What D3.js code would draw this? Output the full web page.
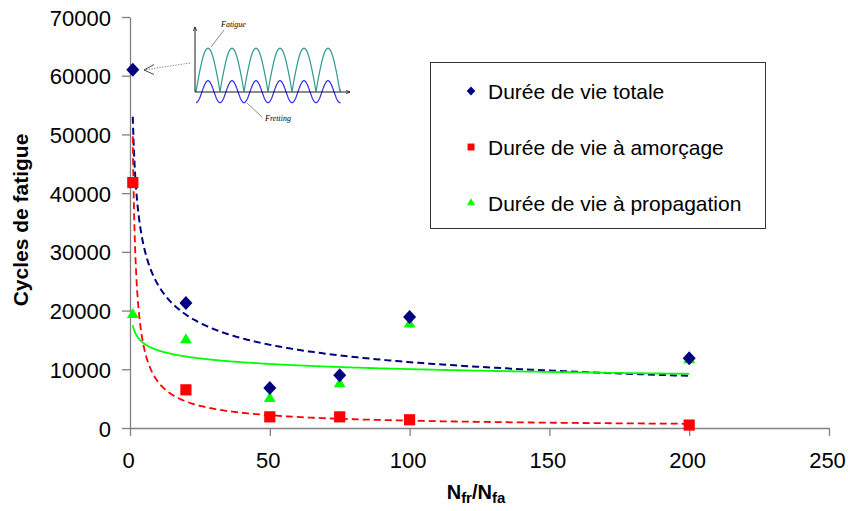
<!DOCTYPE html>
<html>
<head>
<meta charset="utf-8">
<script src="https://cdn.jsdelivr.net/npm/d3@7"></script>
<style>
  html, body { margin: 0; padding: 0; background: #fff; }
  svg { display: block; font-family: "Liberation Sans", Arial, sans-serif; }
</style>
</head>
<body>
<svg id="chart" width="848" height="511"></svg>
<script>
// ---- data ----
const xValues = [1, 20, 50, 75, 100, 200];
const totale = [61000, 21300, 6800, 9000, 18900, 11900];
const amorcage = [41800, 6500, 1900, 1900, 1400, 500];
const propagation = [19300, 15000, 5000, 7500, 17700, 11600];
const seriesNames = ["Durée de vie totale", "Durée de vie à amorçage", "Durée de vie à propagation"];
const xTicks = [0, 50, 100, 150, 200, 250];
const yTicks = [0, 10000, 20000, 30000, 40000, 50000, 60000, 70000];

const svg = d3.select("#chart");
const x = d3.scaleLinear().domain([0, 250]).range([130, 829]);
const y = d3.scaleLinear().domain([0, 70000]).range([428, 17]);
const axisColor = "#808080";

// axes
const gy = svg.append("g").attr("transform", "translate(130,0)")
  .call(d3.axisLeft(y).tickValues(yTicks).tickFormat(d3.format("d")).tickSize(8).tickSizeOuter(0).tickPadding(11));
gy.select(".domain").attr("stroke", axisColor).attr("stroke-width", 1.3);
gy.selectAll(".tick line").attr("stroke", axisColor).attr("stroke-width", 1.3);
gy.selectAll(".tick text").attr("font-size", 22).attr("fill", "#000")
  .attr("font-family", "Liberation Sans, Arial, sans-serif").attr("dy", "0.37em");

const gx = svg.append("g").attr("transform", "translate(0,428)")
  .call(d3.axisBottom(x).tickValues(xTicks).tickSize(8).tickSizeOuter(0));
gx.select(".domain").attr("stroke", axisColor).attr("stroke-width", 1.3);
gx.selectAll(".tick line").attr("stroke", axisColor).attr("stroke-width", 1.3);
gx.selectAll(".tick text").attr("font-size", 22).attr("fill", "#000")
  .attr("font-family", "Liberation Sans, Arial, sans-serif")
  .attr("y", 40).attr("dy", 0).attr("dx", -2);

// axis titles
svg.append("text")
  .attr("transform", "translate(28,220) rotate(-90)")
  .attr("text-anchor", "middle").attr("font-weight", "bold").attr("font-size", 21)
  .text("Cycles de fatigue");

const xt = svg.append("text").attr("x", 476).attr("y", 499)
  .attr("text-anchor", "middle").attr("font-weight", "bold").attr("font-size", 20);
xt.append("tspan").text("N");
xt.append("tspan").attr("font-size", 15).attr("dy", 4).text("fr");
xt.append("tspan").attr("dy", -4).text("/N");
xt.append("tspan").attr("font-size", 15).attr("dy", 4).text("fa");

// power trend lines (least squares in log space, as a spreadsheet power fit)
function powerFit(xs, ys) {
  const lx = xs.map(Math.log), ly = ys.map(Math.log);
  const mx = d3.mean(lx), my = d3.mean(ly);
  let sxy = 0, sxx = 0;
  for (let i = 0; i < lx.length; i++) { sxy += (lx[i]-mx)*(ly[i]-my); sxx += (lx[i]-mx)**2; }
  const b = sxy / sxx, a = Math.exp(my - b*mx);
  return v => a * Math.pow(v, b);
}
const xMin = d3.min(xValues), xMax = d3.max(xValues);
const samples = d3.range(0, 401).map(i => xMin * Math.pow(xMax / xMin, i / 400));
const line = d3.line().x(d => x(d[0])).y(d => y(d[1]));

const trends = [
  { ys: totale, color: "#000080", dash: "7,4", w: 2 },
  { ys: amorcage, color: "#FF0000", dash: "7,4", w: 1.8 },
  { ys: propagation, color: "#00FF00", dash: null, w: 1.8 }
];
trends.forEach(t => {
  const f = powerFit(xValues, t.ys);
  svg.append("path")
    .attr("d", line(samples.map(v => [v, f(v)])))
    .attr("fill", "none").attr("stroke", t.color).attr("stroke-width", t.w)
    .attr("stroke-dasharray", t.dash);
});

// markers
const diamondPath = (w, h) => `M0,${-h/2}L${w/2},0L0,${h/2}L${-w/2},0Z`;
const square = d3.symbol().type(d3.symbolSquare).size(125);
const triangle = d3.symbol().type(d3.symbolTriangle).size(60);

svg.append("g").selectAll("path").data(xValues.map((v, i) => [v, propagation[i]])).join("path")
  .attr("d", triangle).attr("fill", "#00FF00")
  .attr("transform", d => `translate(${x(d[0])},${y(d[1])})`);
svg.append("g").selectAll("path").data(xValues.map((v, i) => [v, amorcage[i]])).join("path")
  .attr("d", square).attr("fill", "#FF0000")
  .attr("transform", d => `translate(${x(d[0])},${y(d[1])})`);
svg.append("g").selectAll("path").data(xValues.map((v, i) => [v, totale[i]])).join("path")
  .attr("d", diamondPath(13, 14)).attr("fill", "#000080")
  .attr("transform", d => `translate(${x(d[0])},${y(d[1])})`);

// legend
const lg = svg.append("g");
lg.append("rect").attr("x", 430.5).attr("y", 62.5).attr("width", 335).attr("height", 166)
  .attr("fill", "#fff").attr("stroke", "#333").attr("stroke-width", 1);
const legSymbols = [
  { d: diamondPath(8.5, 9), color: "#000080" },
  { d: d3.symbol().type(d3.symbolSquare).size(48)(), color: "#FF0000" },
  { d: d3.symbol().type(d3.symbolTriangle).size(28)(), color: "#00FF00" }
];
seriesNames.forEach((name, i) => {
  const cy = 91 + i * 56;
  lg.append("path").attr("d", legSymbols[i].d).attr("fill", legSymbols[i].color)
    .attr("transform", `translate(471,${cy})`);
  lg.append("text").attr("x", 488).attr("y", cy + 8).attr("font-size", 21).text(name);
});

// inset schematic
const inset = svg.append("g");
const defs = svg.append("defs");
defs.append("marker").attr("id", "ah").attr("viewBox", "0 0 10 10").attr("refX", 9).attr("refY", 5)
  .attr("markerWidth", 5).attr("markerHeight", 5).attr("orient", "auto")
  .append("path").attr("d", "M0,1 L9,5 L0,9").attr("fill", "none").attr("stroke", "#000").attr("stroke-width", 1.5);
const x0 = 196, base = 91.7, hump = 24;
const tealPts = d3.range(0, 145, 0.5).map(t => [x0 + t, base - 43.5 * Math.abs(Math.sin(Math.PI * t / hump))]);
const bluePts = d3.range(0, 145, 0.5).map(t => [x0 + t, base + 11 * Math.cos(2 * Math.PI * t / hump)]);
const ln = d3.line();
inset.append("path").attr("d", ln(tealPts)).attr("fill", "none").attr("stroke", "#2E9A90").attr("stroke-width", 1.2);
inset.append("path").attr("d", ln(bluePts)).attr("fill", "none").attr("stroke", "#2B2BF0").attr("stroke-width", 1.2);
inset.append("line").attr("x1", 195).attr("y1", 92).attr("x2", 195).attr("y2", 27)
  .attr("stroke", "#000").attr("stroke-width", 0.9).attr("marker-end", "url(#ah)");
inset.append("line").attr("x1", 195).attr("y1", 92).attr("x2", 350).attr("y2", 92)
  .attr("stroke", "#000").attr("stroke-width", 0.9).attr("marker-end", "url(#ah)");
inset.append("text").attr("x", 221).attr("y", 27).attr("font-family", "Liberation Serif, serif")
  .attr("font-style", "italic").attr("font-size", 8).attr("fill", "#000").text("Fatigue");
inset.append("line").attr("x1", 224).attr("y1", 30).attr("x2", 211).attr("y2", 47)
  .attr("stroke", "#555").attr("stroke-width", 0.7);
inset.append("text").attr("x", 265).attr("y", 121).attr("font-family", "Liberation Serif, serif")
  .attr("font-style", "italic").attr("font-size", 8).attr("fill", "#000").text("Fretting");
inset.append("line").attr("x1", 262).attr("y1", 117).attr("x2", 247).attr("y2", 103)
  .attr("stroke", "#555").attr("stroke-width", 0.7);
// dotted pointer to first point
inset.append("line").attr("x1", 190).attr("y1", 63).attr("x2", 144).attr("y2", 70)
  .attr("stroke", "#555").attr("stroke-width", 0.8).attr("stroke-dasharray", "1.2,1.5");
inset.append("path").attr("d", "M154,64.5 L144,70 L154,74.5").attr("fill", "none")
  .attr("stroke", "#333").attr("stroke-width", 0.9);
</script>
</body>
</html>
